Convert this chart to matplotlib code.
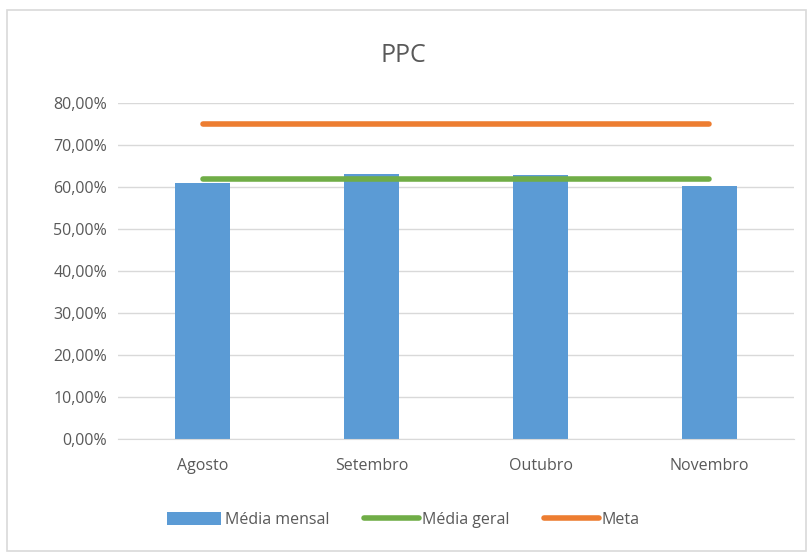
import matplotlib.pyplot as plt
from matplotlib.patches import Rectangle

meses = ["Agosto", "Setembro", "Outubro", "Novembro"]
media_mensal = [0.609, 0.632, 0.629, 0.602]
media_geral = [0.619, 0.619, 0.619, 0.619]
meta = [0.75, 0.75, 0.75, 0.75]

plt.rcParams['font.family'] = ['Open Sans', 'DejaVu Sans']
cinza = "#595959"

fig = plt.figure(figsize=(8.07, 5.52), dpi=100)
fig.patches.append(Rectangle((7 / 807, 0.002), 1 - 8 / 807, 1 - 10 / 552 - 0.002,
                             transform=fig.transFigure, fill=False,
                             edgecolor="#d9d9d9", linewidth=1.2))
ax = fig.add_axes([118 / 807, 113 / 552, 676 / 807, 336 / 552])

x = range(len(meses))
barras = ax.bar(x, media_mensal, width=0.32, color="#5b9bd5", label="Média mensal", zorder=2)
l_geral, = ax.plot(x, media_geral, color="#70ad47", linewidth=4, solid_capstyle="round",
                   label="Média geral", zorder=3)
l_meta, = ax.plot(x, meta, color="#ed7d31", linewidth=4, solid_capstyle="round",
                  label="Meta", zorder=3)

ax.set_xlim(-0.5, len(meses) - 0.5)
ax.set_ylim(0, 0.8)
yt = [i / 10 for i in range(9)]
ax.set_yticks(yt)
ax.set_yticklabels([f"{v * 100:.2f}%".replace(".", ",") for v in yt])
ax.set_xticks(list(x))
ax.set_xticklabels(meses)
ax.grid(axis="y", color="#d9d9d9", linewidth=1, zorder=0)
ax.set_axisbelow(True)
for s in ["top", "right", "left"]:
    ax.spines[s].set_visible(False)
ax.spines["bottom"].set_color("#d9d9d9")
ax.tick_params(axis="both", length=0, labelsize=11.5, colors=cinza)
ax.tick_params(axis="x", pad=14)
ax.tick_params(axis="y", pad=8)

fig.text(0.5, 1 - 55 / 552, "PPC", ha="center", va="center", fontsize=18, color=cinza)
fig.legend([barras, l_geral, l_meta], ["Média mensal", "Média geral", "Meta"],
           loc="center", bbox_to_anchor=(0.5, 1 - 520 / 552), ncol=3, frameon=False,
           fontsize=11.5, labelcolor=cinza, handlelength=3.4, handleheight=0.9,
           handletextpad=0.2, columnspacing=2.2)

fig.savefig("out.png", dpi=100)
